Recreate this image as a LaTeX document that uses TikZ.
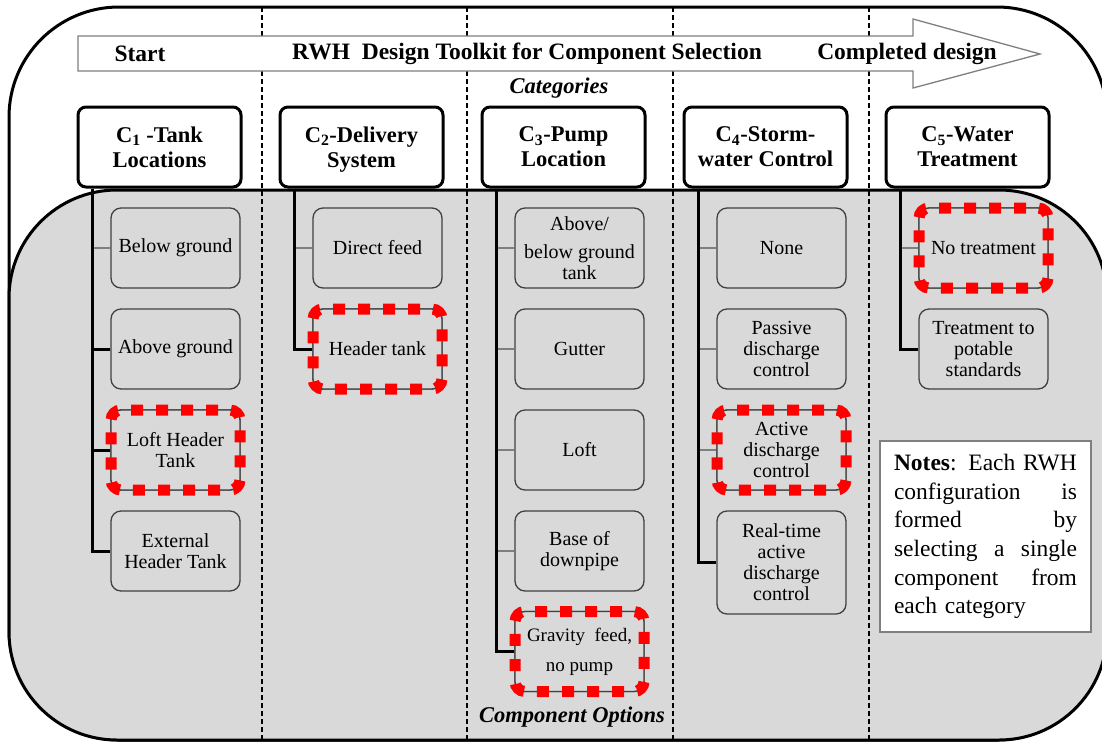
\documentclass[tikz,border=0pt]{standalone}
\usepackage{fontspec}
\setmainfont{Liberation Serif}
\definecolor{bggray}{HTML}{D9D9D9}
\definecolor{optline}{HTML}{404040}
\definecolor{midgray}{HTML}{7F7F7F}
\begin{document}
\begin{tikzpicture}[x=1pt, y=-1pt,
	cat/.style={draw, line width=3pt, rounded corners=8pt, fill=white, minimum width=163pt, minimum height=80pt, inner sep=0, align=center, font=\bfseries\fontsize{22.5}{25}\selectfont},
	opt/.style={draw=optline, line width=1.3pt, rounded corners=10pt, fill=bggray, minimum width=129pt, minimum height=80pt, inner sep=1pt, align=center, font=\fontsize{20}{21}\selectfont},
	chosen/.style={postaction={draw=red, line width=11pt, dash pattern=on 12pt off 13.05pt, dash phase=13.25pt}},
	thinlink/.style={draw=midgray, line width=1.5pt},
	thicklink/.style={draw=black, line width=3pt},
	bartext/.style={font=\bfseries\fontsize{23.5}{26}\selectfont},
	headtext/.style={font=\bfseries\itshape\fontsize{22.5}{25}\selectfont}]
		
		\clip (0,0) rectangle (1102,742);
		\draw[line width=3pt, fill=white, rounded corners=110pt] (9,7) rectangle (1107,740);
		\draw[line width=3pt, fill=bggray, rounded corners=108pt] (9,190) rectangle (1107,740);
		\foreach \x in {262,467,673,869}
			\draw[line width=1.3pt, dash pattern=on 5pt off 3pt] (\x,7) -- (\x,740);
		
		\draw[midgray, line width=1.3pt, fill=white] (78,36) -- (913,36) -- (913,19) -- (1040,54) -- (913,88) -- (913,71) -- (78,71) -- cycle;
		\node (start) at (140,54) [bartext] {Start};
		\node (title) at (527,54) [bartext] {RWH\ \ Design Toolkit for Component Selection};
		\node (done) at (907,54) [bartext] {Completed design};
		\node (cats) at (559,88) [headtext] {Categories};
		
		\node (C1) at (159.5,147) [cat] {C\textsubscript{1} -Tank\\Locations};
		\node (C2) at (361.5,147) [cat] {C\textsubscript{2}-Delivery\\\smash{System}};
		\node (C3) at (563.5,147) [cat] {C\textsubscript{3}-Pump\\Location};
		\node (C4) at (765.5,147) [cat] {C\textsubscript{4}-Storm-\\water Control};
		\node (C5) at (967.5,147) [cat] {C\textsubscript{5}-Water\\Treatment};
		
		\node (C1a) at (175.5,248) [opt] {Below ground};
		\node (C1b) at (175.5,349) [opt] {Above ground};
		\node (C1c) at (175.5,450) [opt] {Loft Header\\Tank};
		\node (C1d) at (175.5,551) [opt] {External\\Header Tank};
		\draw[thinlink] ([xshift=16pt]C1.south west) |- (C1a);
		\draw[thicklink] ([xshift=16pt]C1.south west) |- (C1b);
		\draw[thicklink] ([xshift=16pt]C1.south west) |- (C1c);
		\draw[thicklink] ([xshift=16pt]C1.south west) |- (C1d);
		
		\node (C2a) at (377.5,248) [opt] {Direct feed};
		\node (C2b) at (377.5,349) [opt] {Header tank};
		\draw[thinlink] ([xshift=16pt]C2.south west) |- (C2a);
		\draw[thicklink] ([xshift=16pt]C2.south west) |- (C2b);
		
		\node (C3a) at (579.5,248) [opt] {Above/\\[7pt]below ground\\tank};
		\node (C3b) at (579.5,349) [opt] {Gutter};
		\node (C3c) at (579.5,450) [opt] {Loft};
		\node (C3d) at (579.5,551) [opt] {Base of\\downpipe};
		\node (C3e) at (579.5,651.5) [opt, font=\fontsize{19}{30}\selectfont] {Gravity\ \ feed,\\no pump};
		\draw[thinlink] ([xshift=16pt]C3.south west) |- (C3a);
		\draw[thinlink] ([xshift=16pt]C3.south west) |- (C3b);
		\draw[thinlink] ([xshift=16pt]C3.south west) |- (C3c);
		\draw[thinlink] ([xshift=16pt]C3.south west) |- (C3d);
		\draw[thicklink] ([xshift=16pt]C3.south west) |- (C3e);
		
		\node (C4a) at (781.5,248) [opt] {None};
		\node (C4b) at (781.5,349) [opt] {Passive\\discharge\\control};
		\node (C4c) at (781.5,450) [opt] {Active\\discharge\\control};
		\node (C4d) at (781.5,562.5) [opt, minimum height=103pt] {Real-time\\active\\discharge\\control};
		\draw[thinlink] ([xshift=16pt]C4.south west) |- (C4a);
		\draw[thinlink] ([xshift=16pt]C4.south west) |- (C4b);
		\draw[thinlink] ([xshift=16pt]C4.south west) |- (C4c);
		\draw[thicklink] ([xshift=16pt]C4.south west) |- (C4d);
		
		\node (C5a) at (983.5,248) [opt] {No treatment};
		\node (C5b) at (983.5,349) [opt] {Treatment to\\potable\\standards};
		\draw[thinlink] ([xshift=16pt]C5.south west) |- (C5a);
		\draw[thicklink] ([xshift=16pt]C5.south west) |- (C5b);
		
		\node at (C1c) [opt, chosen] {Loft Header\\Tank};
		\node at (C2b) [opt, chosen] {Header tank};
		\node at (C3e) [opt, chosen, font=\fontsize{19}{30}\selectfont] {Gravity\ \ feed,\\no pump};
		\node at (C4c) [opt, chosen] {Active\\discharge\\control};
		\node at (C5a) [opt, chosen] {No treatment};
		
		\node (notes) at (985.5,536.5) [draw=midgray, line width=1.3pt, fill=white, minimum width=211pt, minimum height=191pt, text width=183pt, align=left, inner sep=0, font=\fontsize{23.5}{28.7}\selectfont] {\textbf{Notes}: Each RWH\\configuration\hfill is\\formed\hfill by\\selecting\hfill a\hfill single\\component\hfill from\\each category};
		\node (opts) at (572,717) [headtext] {Component Options};
	\end{tikzpicture}
\end{document}
